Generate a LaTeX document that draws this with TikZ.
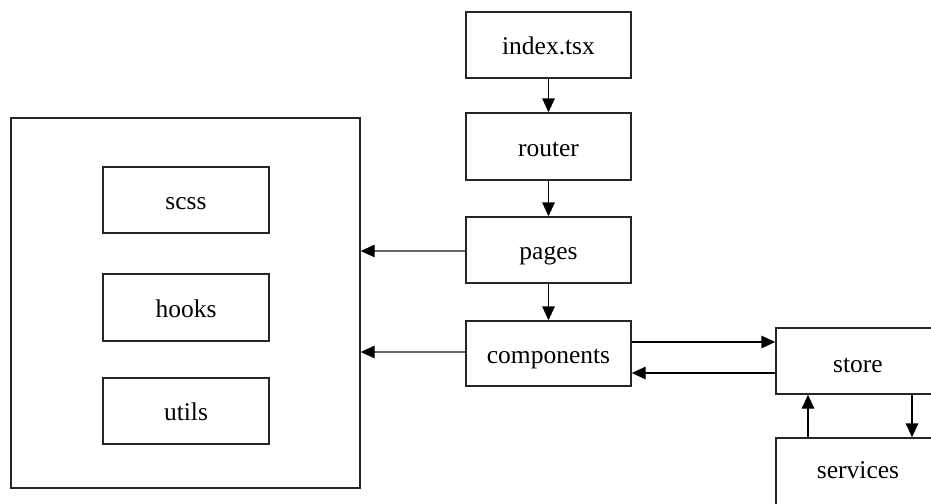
\documentclass[tikz,border=0pt]{standalone}
\usepackage{fontspec}
\setmainfont{Liberation Serif}
\usetikzlibrary{arrows.meta}
\begin{document}
\begin{tikzpicture}[x=1pt,y=-1pt,
  labeltext/.style={font=\fontsize{25.5}{30}\selectfont, text height=19pt, text depth=0pt},
  box/.style={labeltext, draw=black!85, line width=1.4pt, inner sep=0pt, fill=white},
  flow/.style={line width=1.4pt, draw=black,
    -{Triangle[length=14pt,width=12.5pt]}},
  flowgray/.style={line width=1.4pt, draw=black!60,
    -{Triangle[length=14pt,width=12.5pt,black]}}]
\useasboundingbox (0,0) rectangle (931,503);
\clip (0,0) rectangle (931,503);
\fill[white] (0,0) rectangle (931,503);

% main chain
\node[box, minimum width=165pt, minimum height=66pt] (index) at (548.5,45) {index.tsx};
\node[box, minimum width=165pt, minimum height=67pt] (router) at (548.5,146.5) {router};
\node[box, minimum width=165pt, minimum height=66pt] (pages) at (548.5,250) {pages};
\node[box, minimum width=165pt, minimum height=65pt] (components) at (548.5,353.5) {components};

% shared modules
\node[box, minimum width=349pt, minimum height=370pt] (shared) at (185.5,303) {};
\node[box, minimum width=166pt, minimum height=66pt] (scss) at (186,200) {scss};
\node[box, minimum width=166pt, minimum height=67pt] (hooks) at (186,307.5) {hooks};
\node[box, minimum width=166pt, minimum height=66pt] (utils) at (186,411) {utils};

% state and data (boxes run past the right and bottom edges)
\node[box, minimum width=174pt, minimum height=66pt] (store) at (863,361) {};
\node[labeltext, inner sep=0pt] (storelbl) at (858,362.5) {store};
\node[box, minimum width=174pt, minimum height=72pt] (services) at (863,474) {};
\node[labeltext, inner sep=0pt] (serviceslbl) at (858,468.5) {services};

% connectors
\draw[flow] (index) -- (router);
\draw[flow] (router) -- (pages);
\draw[flow] (pages) -- (components);
\draw[flowgray] ([yshift=-1pt]pages.west) -- ([yshift=-1pt]pages.west -| shared.east);
\draw[flowgray] ([yshift=1.5pt]components.west) -- ([yshift=1.5pt]components.west -| shared.east);
\draw[flow] ([yshift=11.5pt]components.east) -- ([yshift=11.5pt]components.east -| store.west);
\draw[flow] ([yshift=-19.5pt]components.east -| store.west) -- ([yshift=-19.5pt]components.east);
\draw[flow] ([xshift=-55pt]services.north) -- ([xshift=-55pt]services.north |- store.south);
\draw[flow] ([xshift=49pt]store.south) -- ([xshift=49pt]store.south |- services.north);
\end{tikzpicture}
\end{document}
